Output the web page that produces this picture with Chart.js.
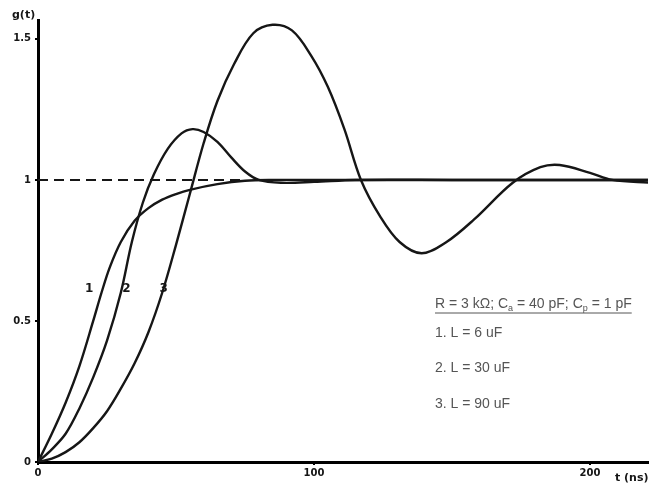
<!DOCTYPE html>
<html>
<head>
<meta charset="utf-8">
<script src="https://cdn.jsdelivr.net/npm/chart.js@4.4.1/dist/chart.umd.min.js"></script>
<style>
  html, body { margin: 0; padding: 0; background: #fff; }
  #wrap { width: 657px; height: 486px; }
</style>
</head>
<body>
<div id="wrap"><canvas id="stepChart"></canvas></div>
<script>
// step response g(t)
const curve1 = [
    [0, 0], [5, 0.10], [10, 0.21], [15, 0.34], [20, 0.50], [23, 0.60], [26, 0.69],
    [30, 0.78], [35, 0.855], [40, 0.90], [45, 0.93], [50, 0.95], [55, 0.965],
    [65, 0.985], [75, 0.997], [85, 1.0], [100, 1.0], [150, 1.0], [222, 1.0]
];
const curve2 = [
    [0, 0], [5, 0.045], [10, 0.10], [15, 0.19], [20, 0.30], [25, 0.43], [30, 0.60],
    [34, 0.78], [38, 0.92], [42, 1.02], [47, 1.11], [52, 1.165], [56, 1.18],
    [60, 1.17], [65, 1.135], [70, 1.08], [75, 1.03], [80, 1.0], [88, 0.99],
    [100, 0.993], [115, 1.0], [150, 1.0], [222, 1.0]
];
const curve3 = [
    [0, 0], [5, 0.012], [10, 0.035], [15, 0.07], [20, 0.12], [25, 0.18], [30, 0.26],
    [35, 0.35], [40, 0.46], [45, 0.60], [50, 0.77], [55, 0.95], [60, 1.13], [65, 1.28],
    [71, 1.41], [78, 1.52], [85, 1.55], [92, 1.53], [99, 1.44], [105, 1.33], [111, 1.18],
    [117, 1.0], [124, 0.87], [131, 0.78], [139, 0.74], [148, 0.78], [158, 0.86],
    [172, 0.99], [182, 1.045], [189, 1.053], [200, 1.025], [208, 1.0], [222, 0.99]
];
const refLine = [[0, 1], [75, 1]];

const xTicks = [0, 100, 200];
const yTicks = [0, 0.5, 1, 1.5];
const yTickLabels = ['0', '0.5', '1', '1.5'];

const curveLabels = [
    { text: '1', x: 18.5, y: 0.615 },
    { text: '2', x: 32, y: 0.615 },
    { text: '3', x: 45.5, y: 0.615 }
];
const paramTitle = [['R = 3 k\u03A9; C', ''], ['a', 'sub'], [' = 40 pF; C', ''], ['p', 'sub'], [' = 1 pF', '']];
const paramLines = ['1. L = 6 uF', '2. L = 30 uF', '3. L = 90 uF'];

const toPoints = arr => arr.map(p => ({ x: p[0], y: p[1] }));

const ink = '#161616';
const lineStyle = {
    borderColor: ink,
    borderWidth: 2.4,
    pointRadius: 0,
    fill: false,
    tension: 0.35
};

// draws the hand-written labels, axis names and the parameter box
const notes = {
    id: 'notes',
    afterDraw(chart) {
        const { ctx, scales: { x, y } } = chart;
        ctx.save();
        ctx.fillStyle = ink;
        ctx.textBaseline = 'middle';
        ctx.textAlign = 'center';
        ctx.font = 'bold 12px "DejaVu Sans"';
        curveLabels.forEach(l => {
            ctx.fillText(l.text, x.getPixelForValue(l.x), y.getPixelForValue(l.y));
        });

        ctx.textAlign = 'left';
        ctx.font = 'bold 11px "DejaVu Sans"';
        ctx.fillText('g(t)', 12, 15);
        ctx.fillText('t (ns)', 615, 478);

        // parameter box
        ctx.fillStyle = '#555';
        ctx.strokeStyle = '#555';
        const left = 435;
        let cx = left;
        const ty = 304;
        paramTitle.forEach(([txt, kind]) => {
            if (kind === 'sub') {
                ctx.font = '9px "Liberation Sans"';
                ctx.fillText(txt, cx, ty + 5);
            } else {
                ctx.font = '14px "Liberation Sans"';
                ctx.fillText(txt, cx, ty);
            }
            cx += ctx.measureText(txt).width;
        });
        ctx.lineWidth = 1;
        ctx.beginPath();
        ctx.moveTo(left, ty + 9);
        ctx.lineTo(cx, ty + 9);
        ctx.stroke();

        ctx.font = '14px "Liberation Sans"';
        const rows = [333, 368, 404];
        paramLines.forEach((t, i) => ctx.fillText(t, left, rows[i]));
        ctx.restore();
    }
};

new Chart(document.getElementById('stepChart'), {
    type: 'line',
    data: {
        datasets: [
            { label: 'ref', data: toPoints(refLine), borderColor: ink, borderWidth: 2, borderDash: [10, 6], pointRadius: 0 },
            { label: '1. L = 6 uF', data: toPoints(curve1), ...lineStyle },
            { label: '2. L = 30 uF', data: toPoints(curve2), ...lineStyle },
            { label: '3. L = 90 uF', data: toPoints(curve3), ...lineStyle }
        ]
    },
    options: {
        responsive: true,
        maintainAspectRatio: false,
        animation: false,
        layout: { padding: { top: 20, right: 9, left: 0, bottom: 0 } },
        plugins: {
            legend: { display: false },
            tooltip: { enabled: false }
        },
        scales: {
            x: {
                type: 'linear',
                min: 0,
                max: 221,
                afterBuildTicks: s => { s.ticks = xTicks.map(v => ({ value: v })); },
                afterFit: s => { s.height = 24; },
                border: { display: true, color: '#000', width: 3 },
                grid: { drawOnChartArea: false, drawTicks: true, tickLength: 3, color: '#000', lineWidth: 2 },
                ticks: {
                    color: ink,
                    padding: 2,
                    font: { family: 'DejaVu Sans', size: 10, weight: 'bold' }
                }
            },
            y: {
                min: 0,
                max: 1.567,
                afterBuildTicks: s => { s.ticks = yTicks.map(v => ({ value: v })); },
                afterFit: s => { s.width = 38; },
                border: { display: true, color: '#000', width: 3 },
                grid: { drawOnChartArea: false, drawTicks: true, tickLength: 3, color: '#000', lineWidth: 2 },
                ticks: {
                    color: ink,
                    padding: 4,
                    font: { family: 'DejaVu Sans', size: 10, weight: 'bold' },
                    callback: v => yTickLabels[yTicks.indexOf(v)]
                }
            }
        }
    },
    plugins: [notes]
});
</script>
</body>
</html>
